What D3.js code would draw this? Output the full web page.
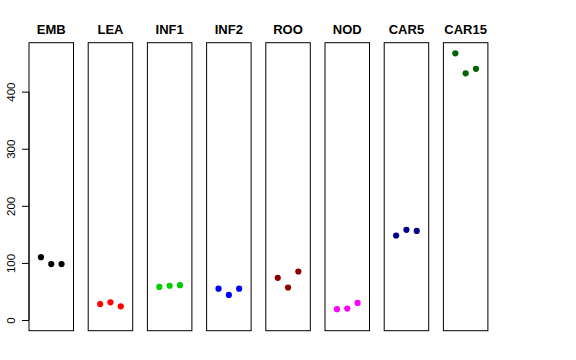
<!DOCTYPE html>
<html>
<head>
<meta charset="utf-8">
<script src="https://cdn.jsdelivr.net/npm/d3@7"></script>
<style>
  html, body { margin: 0; padding: 0; background: #fff; }
  svg { display: block; }
</style>
</head>
<body>
<svg id="chart" width="576" height="360"></svg>
<script>
const categories = ["EMB", "LEA", "INF1", "INF2", "ROO", "NOD", "CAR5", "CAR15"];
const replicates = [1, 2, 3];
const values = [
  [110, 98, 98],
  [28, 31, 24],
  [58, 60, 61],
  [55, 44, 55],
  [74, 57, 85],
  [19, 20, 30],
  [148, 158, 156],
  [467, 432, 440]
];
const colors = ["#000000", "#FF0000", "#00CD00", "#0000FF", "#8B0000", "#FF00FF", "#00008B", "#006400"];
const yTicks = [0, 100, 200, 300, 400];

(function () {
const svg = d3.select("#chart");
const plotTop = 42.7, plotBottom = 330.7;
const panelLeft = 29, panelPitch = 59.2, panelWidth = 44.5;

const ymax = d3.max(values.flat());
const pad = 0.04 * ymax;
const y = d3.scaleLinear().domain([0 - pad, ymax + pad]).range([plotBottom, plotTop]);

const panelX = d3.scaleLinear().domain([0, 1]).range([panelLeft, panelLeft + panelPitch]);

categories.forEach((cat, i) => {
  const x0 = panelX(i);
  const x = d3.scaleLinear().domain([0 - 0.16, 4 + 0.16]).range([x0, x0 + panelWidth]);
  const g = svg.append("g");
  g.append("rect")
    .attr("x", x0).attr("y", plotTop)
    .attr("width", panelWidth).attr("height", plotBottom - plotTop)
    .attr("fill", "none").attr("stroke", "#000").attr("stroke-width", 1);
  g.selectAll("circle").data(values[i]).join("circle")
    .attr("cx", (d, j) => x(replicates[j]))
    .attr("cy", d => y(d))
    .attr("r", 3.1)
    .attr("fill", colors[i]);
  g.append("text")
    .attr("x", x0 + panelWidth / 2)
    .attr("y", 34)
    .attr("text-anchor", "middle")
    .attr("font-family", "Liberation Sans, Arial, sans-serif")
    .attr("font-weight", "bold")
    .attr("font-size", 13)
    .text(cat);
});

const axisG = svg.append("g").attr("transform", `translate(${panelLeft},0)`);
const axis = d3.axisLeft(y).tickValues(yTicks).tickSize(7).tickPadding(0).tickFormat(d3.format("d"));
axisG.call(axis);
axisG.select(".domain").attr("d", `M0,${y(0)}V${y(400)}`).attr("stroke", "#000");
axisG.selectAll(".tick line").attr("stroke", "#000");
axisG.selectAll(".tick text")
  .attr("font-family", "Liberation Sans, Arial, sans-serif")
  .attr("font-size", 11.5)
  .attr("fill", "#000")
  .attr("text-anchor", "middle")
  .attr("x", null)
  .attr("transform", "translate(-18,0) rotate(-90)")
  .attr("y", 0)
  .attr("dy", "0.35em");
})();
</script>
</body>
</html>
